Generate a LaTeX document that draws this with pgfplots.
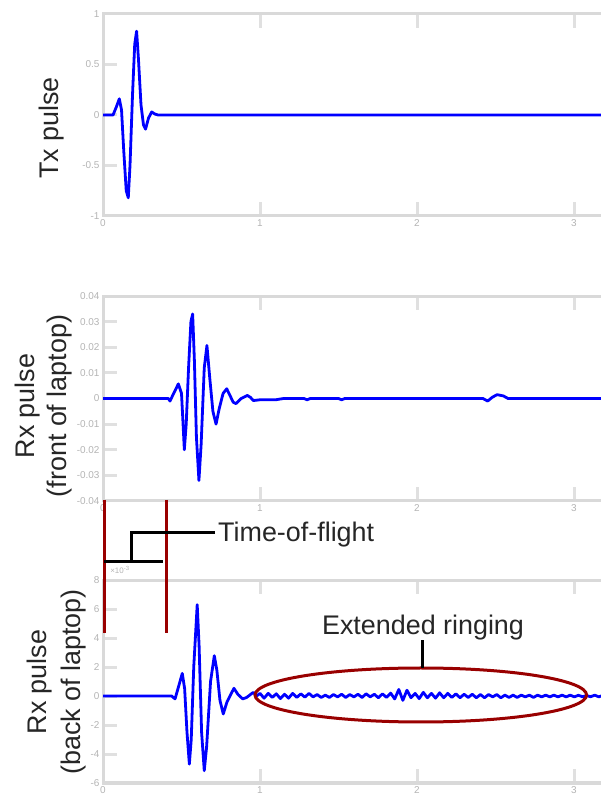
\documentclass[border=0pt]{standalone}
\usepackage{fontspec}
\setmainfont{Liberation Sans}
\usepackage{pgfplots}
\pgfplotsset{compat=1.18}

\definecolor{axgray}{HTML}{D9D9D9}
\definecolor{tkgray}{HTML}{E0E0E0}
\definecolor{lblgray}{HTML}{B4B4B4}
\definecolor{annred}{HTML}{990000}
\definecolor{txtdark}{HTML}{262626}

\pgfplotsset{
  panel/.style={
    scale only axis, width=518.1bp,
    xmin=0, xmax=3.3,
    anchor=south west,
    axis line style={draw=axgray, line width=3bp},
    tick style={draw=tkgray, line width=3bp},
    major tick length=14bp,
    tick align=inside,
    xtick={0,1,2,3}, xticklabels={0,1,2,3},
    ytick pos=left,
    scaled y ticks=false,
    tick label style={font=\fontsize{10}{10}\selectfont, text=lblgray},
    /pgf/number format/assume math mode=true,
  },
  sig/.style={color=blue, line width=2.8bp, line join=round}
}

\begin{document}
\begin{tikzpicture}
\path[use as bounding box] (0,0) rectangle (601bp,800bp);

% Tx pulse
\begin{axis}[panel, at={(103bp,584bp)}, height=202bp,
  ymin=-1, ymax=1, ytick={-1,-0.5,0,0.5,1}, yticklabels={-1,-0.5,0,0.5,1}]
\addplot[sig] coordinates {
  (0,0) (0.064,0) (0.085,0.08) (0.104,0.16) (0.118,0.05) (0.132,-0.35)
  (0.148,-0.75) (0.161,-0.82) (0.172,-0.5) (0.188,0.2) (0.202,0.7)
  (0.214,0.83) (0.226,0.55) (0.242,0.1) (0.258,-0.1) (0.271,-0.14)
  (0.29,-0.03) (0.31,0.03) (0.33,0.01) (0.35,0) (3.3,0)
};
\end{axis}

% Rx front
\begin{axis}[panel, at={(103bp,299bp)}, height=205bp,
  ymin=-0.04, ymax=0.04,
  ytick={-0.04,-0.03,-0.02,-0.01,0,0.01,0.02,0.03,0.04},
  yticklabels={-0.04,-0.03,-0.02,-0.01,0,0.01,0.02,0.03,0.04}]
\addplot[sig] coordinates {
  (0,0) (0.416,0) (0.427,-0.001) (0.45,0.002) (0.48,0.0057) (0.50,0.002)
  (0.51,-0.01) (0.518,-0.020) (0.53,-0.01) (0.545,0.012) (0.56,0.03)
  (0.571,0.033) (0.582,0.015) (0.595,-0.015) (0.611,-0.032) (0.625,-0.018)
  (0.645,0.012) (0.662,0.0207) (0.68,0.008) (0.70,-0.005) (0.72,-0.010)
  (0.74,-0.004) (0.765,0.002) (0.788,0.0038) (0.81,0.001) (0.83,-0.0015)
  (0.847,-0.002) (0.88,0) (0.919,0.0012) (0.94,0.0004) (0.957,-0.0008)
  (1.0,-0.0005) (1.1,-0.0005) (1.15,0) (1.28,0) (1.30,-0.0005) (1.32,0)
  (1.5,0) (1.52,-0.0005) (1.54,0) (2.42,0) (2.45,-0.001) (2.48,0.0005)
  (2.51,0.0015) (2.55,0.001) (2.58,0) (3.3,0)
};
\end{axis}

% Rx back (values x 10^-3)
\begin{axis}[panel, at={(103bp,17bp)}, height=203bp,
  ymin=-6, ymax=8, ytick={-6,-4,-2,0,2,4,6,8},
  yticklabels={-6,-4,-2,0,2,4,6,8}]
\addplot[sig] coordinates {
  (0,0) (0.437,0) (0.459,-0.2) (0.48,0.6) (0.505,1.56) (0.52,0.5)
  (0.535,-2.5) (0.55,-4.7) (0.562,-3) (0.578,2) (0.60,6.3) (0.612,3.5)
  (0.628,-2.5) (0.645,-5.15) (0.66,-3.5) (0.685,1) (0.709,2.78)
  (0.725,1.8) (0.745,-0.3) (0.766,-1.24) (0.79,-0.4) (0.834,0.53)
  (0.86,0.1) (0.89,-0.2) (0.915,-0.1) (0.957,0.25) (0.978,0)
  (1.000,0.18) (1.026,-0.15) (1.052,0.18) (1.078,-0.1) (1.104,0.15)
  (1.130,-0.18) (1.156,0.12) (1.182,-0.15) (1.208,0.18) (1.234,-0.1)
  (1.260,0.15) (1.286,-0.08) (1.312,0.18) (1.338,-0.06) (1.364,0.1)
  (1.390,-0.1) (1.416,0.06) (1.442,-0.1) (1.468,0.1) (1.494,-0.06)
  (1.520,0.12) (1.546,-0.1) (1.572,0.1) (1.598,-0.06) (1.624,0.12)
  (1.650,-0.1) (1.676,0.15) (1.702,-0.06) (1.728,0.12) (1.754,-0.12)
  (1.780,0.15) (1.806,-0.1) (1.832,0.2) (1.858,-0.2) (1.884,0.45)
  (1.910,-0.3) (1.936,0.4) (1.962,-0.12) (1.988,0.18) (2.014,-0.18)
  (2.040,0.25) (2.066,-0.12) (2.092,0.18) (2.118,-0.15) (2.144,0.22)
  (2.170,-0.12) (2.196,0.18) (2.222,-0.1) (2.248,0.15) (2.274,-0.12)
  (2.300,0.12) (2.326,-0.1) (2.352,0.12) (2.378,-0.12) (2.404,0.1)
  (2.430,-0.12) (2.456,0.1) (2.482,-0.06) (2.508,0.1) (2.534,-0.12)
  (2.560,0.06) (2.586,-0.1) (2.612,0.06) (2.638,-0.1) (2.664,0.06)
  (2.690,-0.06) (2.716,0.06) (2.742,-0.1) (2.768,0.06) (2.794,-0.06)
  (2.820,0.06) (2.846,-0.06) (2.872,0.06) (2.898,-0.06) (2.924,0.06)
  (2.950,-0.06) (2.976,0.06) (3.002,-0.06) (3.028,0.05) (3.054,-0.05)
  (3.080,0.03) (3.106,-0.05) (3.132,0.06) (3.158,-0.06) (3.184,0.05)
  (3.210,-0.03) (3.25,0) (3.3,0)
};
\end{axis}

% exponent label
\node[font=\fontsize{8}{8}\selectfont, text=lblgray] at (120bp,230bp) {×10\textsuperscript{-3}};

% y labels
\begin{scope}[every node/.style={font=\fontsize{27}{30}\selectfont, text=txtdark, rotate=90, inner sep=0pt}]
\node at (52bp,672bp) {Tx pulse};
\node at (28bp,394bp) {Rx pulse};
\node at (60bp,394bp) {(front of laptop)};
\node at (40bp,118bp) {Rx pulse};
\node at (74bp,118bp) {(back of laptop)};
\end{scope}

% time-of-flight annotation
\draw[annred, line width=3bp] (104bp,300bp) -- (104bp,167bp);
\draw[annred, line width=3bp] (166bp,300bp) -- (166bp,167bp);
\draw[black, line width=3bp] (104bp,238.3bp) -- (163bp,238.3bp);
\draw[black, line width=3bp] (131bp,238.3bp) -- (131bp,267.3bp) -- (215bp,267.3bp);
\node[anchor=base west, inner sep=0pt, font=\fontsize{27}{30}\selectfont, text=txtdark] at (218bp,258.3bp) {Time-of-flight};

% extended ringing annotation
\draw[annred, line width=3bp] (420.8bp,105bp) ellipse [x radius=165.8bp, y radius=27bp];
\draw[black, line width=3bp] (422.3bp,132bp) -- (422.3bp,160bp);
\node[anchor=base, inner sep=0pt, font=\fontsize{27}{30}\selectfont, text=txtdark] at (423bp,165bp) {Extended ringing};

\end{tikzpicture}
\end{document}
